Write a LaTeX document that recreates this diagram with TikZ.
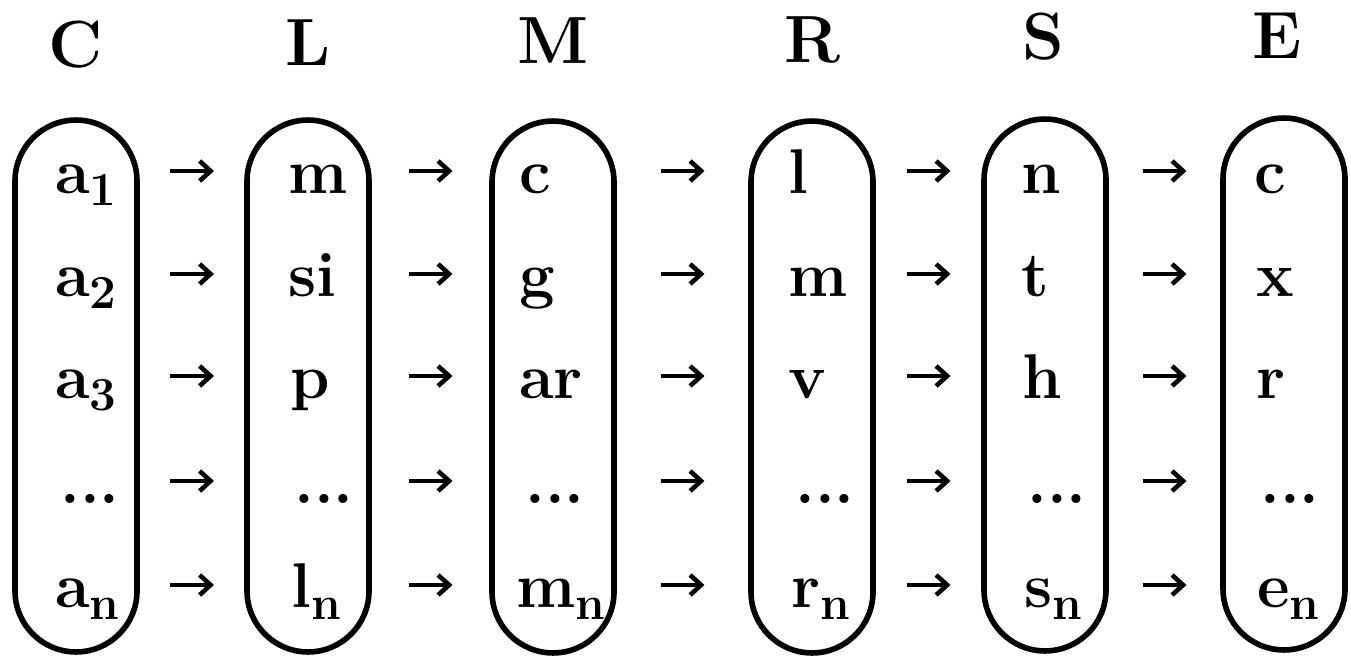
\documentclass[tikz,border=0pt]{standalone}
\usetikzlibrary{arrows.meta,calc}
\newcommand{\subx}[1]{\raisebox{-0.25cm}{\fontsize{27}{27}\selectfont\bfseries #1}}
\begin{document}
\begin{tikzpicture}[x=0.02cm,y=-0.02cm,
  colbox/.style={draw, line width=3.2pt, rounded corners=1.22cm, minimum width=2.44cm, minimum height=10.64cm, inner sep=0pt},
  celltext/.style={anchor=base west, inner sep=0pt, font=\fontsize{36}{40}\selectfont\bfseries},
  headtext/.style={anchor=base, inner sep=0pt, font=\fontsize{38}{40}\selectfont\bfseries},
  arr/.style={line width=2.3pt, -{Straight Barb[length=0.22cm,width=0.4cm,line width=2.6pt]}}]
\useasboundingbox (0,0) rectangle (1351,666);
% boxes
\node[colbox] (bC) at (76,386) {};
\node[colbox] (bL) at (308,386) {};
\node[colbox] (bM) at (553,387) {};
\node[colbox] (bR) at (812,387) {};
\node[colbox] (bS) at (1045,385) {};
\node[colbox] (bE) at (1284,384) {};
% headers
\node[headtext] (hC) at (76,67) {C};
\node[headtext] (hL) at (308,65) {L};
\node[headtext] (hM) at (553,63) {M};
\node[headtext] (hR) at (812,62) {R};
\node[headtext] (hS) at (1043,59) {S};
\node[headtext] (hE) at (1277,58) {E};
% column C
\node[celltext] (C1) at (55,193) {a\subx{1}};
\node[celltext] (C2) at (55,296) {a\subx{2}};
\node[celltext] (C3) at (55,398) {a\subx{3}};
\node[celltext] (C4) at (60,503) {...};
\node[celltext] (C5) at (55,607) {a\subx{n}};
% column L
\node[celltext] (L1) at (288,193) {m};
\node[celltext] (L2) at (288,296) {si};
\node[celltext] (L3) at (290,398) {p};
\node[celltext] (L4) at (294,503) {...};
\node[celltext] (L5) at (291,607) {l\subx{n}};
% column M
\node[celltext] (M1) at (519,193) {c};
\node[celltext] (M2) at (519,296) {g};
\node[celltext] (M3) at (519,398) {ar};
\node[celltext] (M4) at (525,503) {...};
\node[celltext] (M5) at (516,607) {m\subx{n}};
% column R
\node[celltext] (R1) at (788,193) {l};
\node[celltext] (R2) at (788,296) {m};
\node[celltext] (R3) at (788,398) {v};
\node[celltext] (R4) at (795,503) {...};
\node[celltext] (R5) at (791,607) {r\subx{n}};
% column S
\node[celltext] (S1) at (1021,193) {n};
\node[celltext] (S2) at (1021,296) {t};
\node[celltext] (S3) at (1022,398) {h};
\node[celltext] (S4) at (1027,503) {...};
\node[celltext] (S5) at (1024,607) {s\subx{n}};
% column E
\node[celltext] (E1) at (1254,193) {c};
\node[celltext] (E2) at (1256,296) {x};
\node[celltext] (E3) at (1256,398) {r};
\node[celltext] (E4) at (1260,503) {...};
\node[celltext] (E5) at (1257,607) {e\subx{n}};
% arrows
\foreach \a/\b in {C/L,L/M,M/R,R/S,S/E}{
  \foreach \r in {1,...,5}{
    \draw[arr] ($(b\a.east |- \a\r.base)!0.5!(b\b.west |- \a\r.base)+(-22,-22)$) -- ($(b\a.east |- \a\r.base)!0.5!(b\b.west |- \a\r.base)+(22,-22)$);
  }
}
\end{tikzpicture}
\end{document}
